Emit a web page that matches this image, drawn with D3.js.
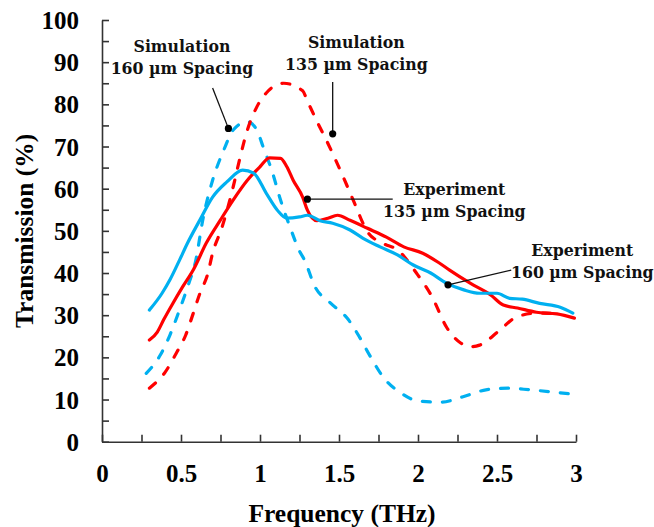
<!DOCTYPE html>
<html lang="en">
  <head>
    <meta charset="UTF-8">
    <title>Transmission vs frequency</title>
    <script src="https://d3js.org/d3.v7.min.js"></script>
    <style>
      body { margin: 0; background: white; }
      .tick text { font-family: "Liberation Serif", "Times New Roman", serif; font-weight: bold; font-size: 25px; fill: #000; }
      .note { font-family: "DejaVu Serif Condensed", "DejaVu Serif", serif; font-stretch: condensed; font-weight: bold; font-size: 17.5px; fill: #111; }
    </style>
  </head>
  <body>
    <script>
      const w = 654;
      const h = 527;

      // simulation, 135 um spacing (red dashed)
      const sim135Freq = [0.30, 0.40, 0.47, 0.53, 0.57, 0.62, 0.67, 0.70, 0.76, 0.83, 0.87, 0.92, 0.98, 1.04, 1.15, 1.27, 1.30, 1.36, 1.42, 1.53, 1.59, 1.68, 1.78, 1.87, 1.99, 2.09, 2.18, 2.27, 2.33, 2.39, 2.51, 2.62, 2.75, 2.90];
      const sim135T = [12.7, 16.5, 21.0, 25.3, 29.6, 35.2, 39.9, 44.7, 50.9, 60.4, 66.8, 73.9, 79.4, 82.7, 85.0, 83.2, 80.8, 76.0, 71.5, 62.5, 57.3, 49.8, 47.0, 45.5, 40.0, 34.3, 27.2, 23.4, 22.5, 22.9, 26.2, 29.5, 30.5, 30.3];

      // simulation, 160 um spacing (blue dashed)
      const sim160Freq = [0.28, 0.37, 0.43, 0.49, 0.55, 0.59, 0.64, 0.70, 0.77, 0.83, 0.92, 0.98, 1.02, 1.08, 1.13, 1.19, 1.25, 1.28, 1.35, 1.44, 1.56, 1.63, 1.70, 1.78, 1.89, 2.01, 2.15, 2.28, 2.43, 2.57, 2.71, 2.85, 2.97];
      const sim160T = [16.2, 20.6, 25.3, 31.2, 37.6, 42.4, 53.0, 62.0, 69.1, 73.9, 75.9, 73.9, 69.9, 63.7, 57.3, 50.9, 45.2, 43.2, 36.6, 33.1, 28.9, 24.8, 20.1, 15.3, 11.6, 9.6, 9.4, 10.6, 12.3, 12.7, 12.3, 11.8, 11.3];

      // experiment, 135 um spacing (red solid)
      const exp135Freq = [0.30, 0.35, 0.39, 0.45, 0.51, 0.58, 0.66, 0.75, 0.83, 0.92, 1.00, 1.06, 1.13, 1.17, 1.21, 1.27, 1.30, 1.36, 1.43, 1.49, 1.57, 1.68, 1.80, 1.91, 2.03, 2.13, 2.20, 2.33, 2.46, 2.54, 2.63, 2.75, 2.88, 2.99];
      const exp135T = [24.1, 26.0, 28.9, 32.9, 36.7, 40.9, 47.1, 52.6, 57.3, 62.0, 65.2, 67.3, 67.2, 65.2, 62.0, 58.0, 54.9, 52.4, 53.0, 53.7, 52.5, 50.6, 48.5, 46.2, 44.7, 42.5, 40.7, 37.6, 34.8, 32.4, 31.7, 30.7, 30.3, 29.3];

      // experiment, 160 um spacing (blue solid)
      const exp160Freq = [0.30, 0.38, 0.43, 0.49, 0.54, 0.62, 0.70, 0.79, 0.89, 0.96, 1.04, 1.11, 1.17, 1.25, 1.30, 1.38, 1.46, 1.57, 1.65, 1.76, 1.87, 1.97, 2.08, 2.18, 2.29, 2.39, 2.50, 2.58, 2.66, 2.77, 2.90, 2.98];
      const exp160T = [31.2, 35.2, 38.4, 43.0, 47.0, 52.6, 58.0, 61.6, 64.4, 63.7, 58.9, 54.9, 53.0, 53.3, 53.7, 52.4, 51.8, 50.2, 48.3, 46.2, 44.3, 41.9, 40.0, 37.6, 36.0, 35.2, 35.2, 34.0, 33.8, 32.8, 31.9, 30.5];

      const xTicks = d3.range(0, 3.001, 0.25);
      const xLabels = [0, 0.5, 1, 1.5, 2, 2.5, 3];
      const yTicks = d3.range(0, 100.1, 5);
      const yLabels = [0, 10, 20, 30, 40, 50, 60, 70, 80, 90, 100];

      const red = "#ff0000";
      const blue = "#00b0f0";

      const svg = d3.select("body")
                    .append("svg")
                    .attr("width", w)
                    .attr("height", h);

      const x = d3.scaleLinear().domain([0, 3]).range([102, 576]);
      const y = d3.scaleLinear().domain([0, 100]).range([441.7, 20]);

      const fmt = d => xLabels.some(v => Math.abs(v - d) < 1e-6) ? d3.format("~g")(d) : "";

      svg.append("g")
         .attr("transform", `translate(0,${y(0)})`)
         .call(d3.axisBottom(x).tickValues(xTicks).tickSize(-7).tickSizeOuter(0).tickPadding(23).tickFormat(fmt));

      const yAxis = svg.append("g")
         .attr("transform", `translate(${x(0)},0)`)
         .call(d3.axisLeft(y).tickValues(yTicks).tickSize(-7).tickSizeOuter(0).tickPadding(23)
               .tickFormat(d => yLabels.includes(d) ? d : ""));

      svg.selectAll(".domain, .tick line").attr("stroke", "#333").attr("stroke-width", 1.6);
      yAxis.selectAll(".tick text").attr("dy", "0.34em");

      svg.append("text")
         .attr("x", 342)
         .attr("y", 522)
         .attr("text-anchor", "middle")
         .style("font-family", "'Liberation Serif', serif")
         .style("font-weight", "bold")
         .style("font-size", "25.5px")
         .text("Frequency (THz)");

      svg.append("text")
         .attr("transform", `translate(33,${(y(0) + y(100)) / 2}) rotate(-90)`)
         .attr("text-anchor", "middle")
         .style("font-family", "'Liberation Serif', serif")
         .style("font-weight", "bold")
         .style("font-size", "25.5px")
         .text("Transmission (%)");

      const line = d3.line()
                     .x(d => x(d[0]))
                     .y(d => y(d[1]))
                     .curve(d3.curveMonotoneX);

      const series = [
        { f: sim160Freq, t: sim160T, color: blue, dash: "8,12" },
        { f: sim135Freq, t: sim135T, color: red, dash: "8,12" },
        { f: exp135Freq, t: exp135T, color: red, dash: null },
        { f: exp160Freq, t: exp160T, color: blue, dash: null }
      ];

      series.forEach(s => {
        svg.append("path")
           .datum(d3.zip(s.f, s.t))
           .attr("d", line)
           .attr("fill", "none")
           .attr("stroke", s.color)
           .attr("stroke-width", 3.2)
           .attr("stroke-linecap", "round")
           .attr("stroke-linejoin", "round")
           .attr("stroke-dasharray", s.dash);
      });

      // callouts: label centre/baseline, dot and line end, all in data units
      const notes = [
        { lines: ["Simulation", "160 \u00b5m Spacing"], tx: 0.506, ty: 92.4, dot: [0.80, 74.3], end: [0.70, 83.9] },
        { lines: ["Simulation", "135 \u00b5m Spacing"], tx: 1.61, ty: 93.4, dot: [1.46, 73.0], end: [1.46, 85.3] },
        { lines: ["Experiment", "135 \u00b5m Spacing"], tx: 2.23, ty: 58.5, dot: [1.30, 57.5], end: [1.84, 57.5] },
        { lines: ["Experiment", "160 \u00b5m Spacing"], tx: 3.04, ty: 44.0, dot: [2.19, 37.2], end: [2.59, 40.7] }
      ];

      notes.forEach(n => {
        svg.append("line")
           .attr("x1", x(n.dot[0])).attr("y1", y(n.dot[1]))
           .attr("x2", x(n.end[0])).attr("y2", y(n.end[1]))
           .attr("stroke", "#111")
           .attr("stroke-width", 1.3);
        svg.append("circle")
           .attr("cx", x(n.dot[0])).attr("cy", y(n.dot[1]))
           .attr("r", 3.6)
           .attr("fill", "#000");
        const t = svg.append("text")
           .attr("class", "note")
           .attr("text-anchor", "middle")
           .attr("x", x(n.tx))
           .attr("y", y(n.ty));
        n.lines.forEach((s, i) => {
          t.append("tspan")
           .attr("x", x(n.tx))
           .attr("dy", i === 0 ? 0 : 22)
           .text(s);
        });
      });
    </script>
  </body>
</html>
